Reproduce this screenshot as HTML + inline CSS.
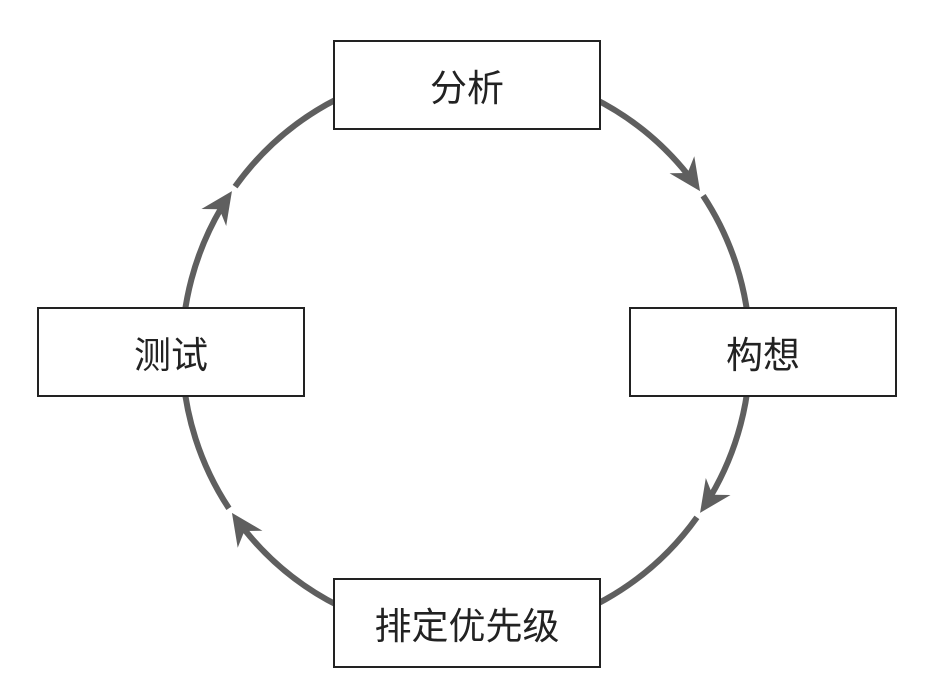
<!DOCTYPE html>
<html><head><meta charset="utf-8"><style>
html,body{margin:0;padding:0;background:#fff;}
.b{position:absolute;border:2px solid #222;background:#fff;box-sizing:border-box;display:flex;align-items:center;justify-content:center;font-family:"Liberation Sans","Noto Sans CJK SC",sans-serif;font-size:37px;color:#222;}
</style></head><body>
<div style="position:relative;width:946px;height:686px;overflow:hidden">
<svg id="s" width="946" height="686" style="position:absolute;left:0;top:0"></svg>
<div class="b" style="left:333px;top:40px;width:268px;height:90px">分析</div>
<div class="b" style="left:629px;top:307px;width:268px;height:90px">构想</div>
<div class="b" style="left:333px;top:578px;width:268px;height:90px">排定优先级</div>
<div class="b" style="left:37px;top:307px;width:268px;height:90px">测试</div>
</div>
<script>
var cx=466,cy=352,r=284,s=document.getElementById('s'),h='';
function P(a){a=a*Math.PI/180;return [cx+r*Math.cos(a),cy+r*Math.sin(a)];}
var tips=[-34.5,34.5,145.5,214.5],gap=1.1;
for(var i=0;i<4;i++){var st=tips[i]+gap,en=tips[(i+1)%4]-4;if(en<st)en+=360;
var p=P(st),q=P(en);
h+='<path d="M'+p[0]+' '+p[1]+' A'+r+' '+r+' 0 0 1 '+q[0]+' '+q[1]+'" fill="none" stroke="#5f5f5f" stroke-width="6"/>';
var t=tips[i]*Math.PI/180,tx=cx+r*Math.cos(t),ty=cy+r*Math.sin(t),dx=-Math.sin(t),dy=Math.cos(t),nx=Math.cos(t),ny=Math.sin(t);
var L=32,W=15,N=22;
var bx=tx-dx*L,by=ty-dy*L,mx=tx-dx*N,my=ty-dy*N;
h+='<polygon points="'+tx+','+ty+' '+(bx+nx*W)+','+(by+ny*W)+' '+mx+','+my+' '+(bx-nx*W)+','+(by-ny*W)+'" fill="#5f5f5f"/>';}
s.innerHTML=h;
</script>
</body></html>
